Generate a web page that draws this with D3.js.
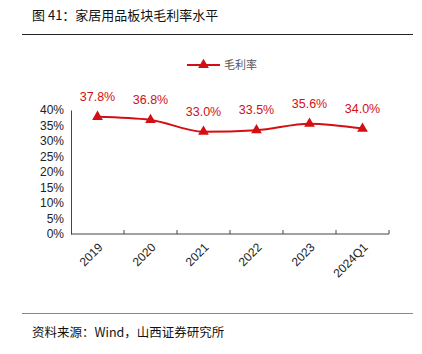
<!DOCTYPE html>
<html lang="zh">
<head>
<meta charset="UTF-8" />
<script src="https://d3js.org/d3.v7.min.js"></script>
<style>
  body { margin: 0; background: #fff; }
</style>
</head>
<body>
<script>
  // chart data
  var years = ["2019", "2020", "2021", "2022", "2023", "2024Q1"];
  var grossMargin = [37.8, 36.8, 33.0, 33.5, 35.6, 34.0];
  var yTicks = [0, 5, 10, 15, 20, 25, 30, 35, 40];
  var seriesName = "毛利率";

  var width = 422, height = 354;
  var red = "#d40f14";
  var cjk = "'Noto Sans CJK SC', sans-serif";

  var svg = d3.select("body").append("svg")
    .attr("width", width).attr("height", height);

  // title + rules
  svg.append("text").attr("x", 32).attr("y", 20)
    .attr("font-family", cjk).attr("font-size", 13).attr("fill", "#111")
    .text("图 41：家居用品板块毛利率水平");
  svg.append("line").attr("x1", 22).attr("x2", 413).attr("y1", 34.5).attr("y2", 34.5)
    .attr("stroke", "#222").attr("stroke-width", 1);
  svg.append("line").attr("x1", 22).attr("x2", 413).attr("y1", 313.5).attr("y2", 313.5)
    .attr("stroke", "#888").attr("stroke-width", 1);
  svg.append("text").attr("x", 32).attr("y", 337)
    .attr("font-family", cjk).attr("font-size", 12.5).attr("fill", "#111")
    .text("资料来源：Wind，山西证券研究所");

  var x = d3.scaleBand().domain(years).range([71, 389]);
  var y = d3.scaleLinear().domain([0, 40]).range([234, 110]);

  // y axis
  var yAxis = svg.append("g").attr("transform", "translate(71,0)")
    .call(d3.axisLeft(y).tickValues(yTicks).tickSize(0).tickPadding(7)
      .tickFormat(function (d) { return d + "%"; }));
  yAxis.select(".domain").attr("stroke", "#444");
  yAxis.selectAll("text").attr("font-family", "Arial, 'Liberation Sans', sans-serif")
    .attr("font-size", 12).attr("fill", "#222");

  // x axis, ticks at band edges pointing up
  var xg = svg.append("g").attr("transform", "translate(0,234)");
  xg.append("line").attr("x1", 71).attr("x2", 389).attr("stroke", "#444");
  var edges = years.map(function (d) { return x(d) + x.bandwidth(); });
  xg.selectAll(".tk").data(edges).enter().append("line")
    .attr("x1", function (d) { return d; }).attr("x2", function (d) { return d; })
    .attr("y1", 0).attr("y2", -4).attr("stroke", "#444");
  xg.selectAll(".lbl").data(years).enter().append("text")
    .attr("text-anchor", "end")
    .attr("font-family", "Arial, 'Liberation Sans', sans-serif")
    .attr("font-size", 12).attr("fill", "#222")
    .attr("transform", function (d) {
      return "translate(" + (x(d) + x.bandwidth() / 2 + 6) + ",14) rotate(-45)";
    })
    .text(function (d) { return d; });

  var pts = years.map(function (d, i) { return { k: d, v: grossMargin[i] }; });
  var line = d3.line()
    .x(function (d) { return x(d.k) + x.bandwidth() / 2; })
    .y(function (d) { return y(d.v); })
    .curve(d3.curveMonotoneX);

  svg.append("path").datum(pts).attr("d", line)
    .attr("fill", "none").attr("stroke", red).attr("stroke-width", 2);

  var tri = d3.symbol().type(d3.symbolTriangle).size(50);
  svg.selectAll(".mk").data(pts).enter().append("path")
    .attr("d", tri).attr("fill", red)
    .attr("transform", function (d) {
      return "translate(" + (x(d.k) + x.bandwidth() / 2) + "," + y(d.v) + ")";
    });

  svg.selectAll(".val").data(pts).enter().append("text")
    .attr("x", function (d) { return x(d.k) + x.bandwidth() / 2; })
    .attr("y", function (d) { return y(d.v) - 16; })
    .attr("text-anchor", "middle")
    .attr("font-family", "Arial, 'Liberation Sans', sans-serif")
    .attr("font-size", 12.5).attr("fill", red)
    .text(function (d) { return d.v.toFixed(1) + "%"; });

  // legend
  var lg = svg.append("g").attr("transform", "translate(187,65)");
  lg.append("line").attr("x1", 0).attr("x2", 33).attr("stroke", red).attr("stroke-width", 2);
  lg.append("path").attr("d", tri).attr("fill", red).attr("transform", "translate(16.5,0)");
  lg.append("text").attr("x", 37).attr("y", 4).attr("font-family", cjk)
    .attr("font-size", 11).attr("fill", "#555").text(seriesName);
</script>
</body>
</html>
